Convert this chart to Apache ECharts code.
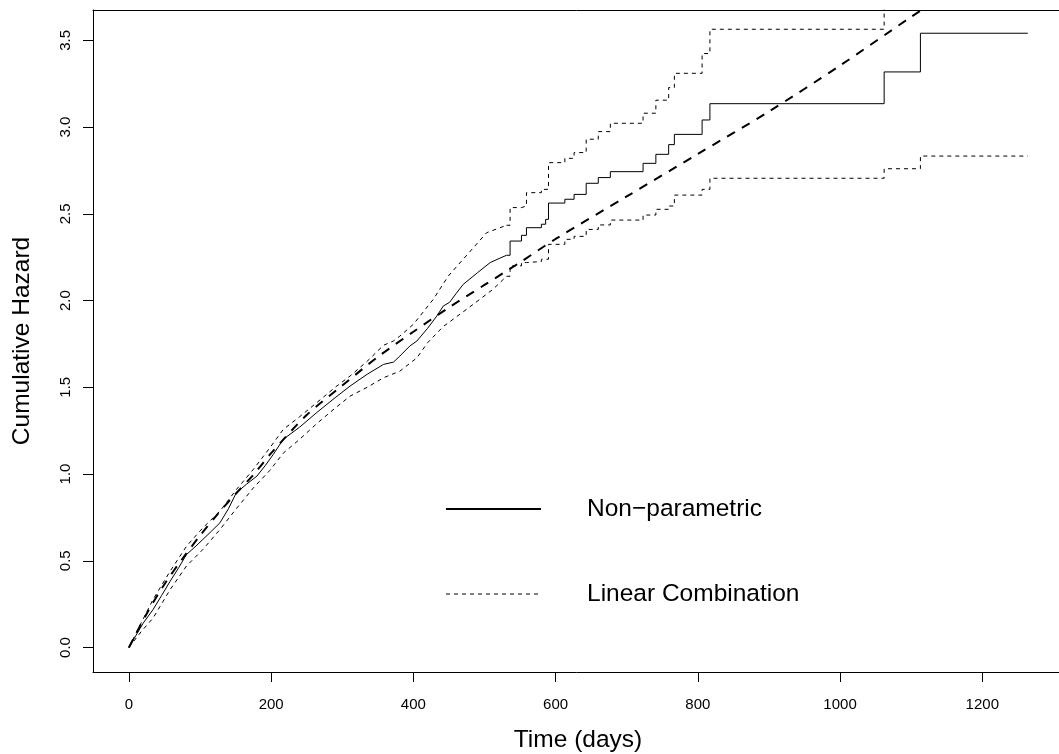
<!DOCTYPE html>
<html>
<head>
<meta charset="utf-8">
<script src="https://cdn.jsdelivr.net/npm/echarts@6/dist/echarts.min.js"></script>
<style>
  html, body { margin: 0; padding: 0; background: #fff; }
  #hazardChart { width: 1059px; height: 754px; }
</style>
</head>
<body>
<div id="hazardChart"></div>
<script>
// ticks
var timeTicks = [0, 200, 400, 600, 800, 1000, 1200];
var hazardTicks = [0, 0.5, 1, 1.5, 2, 2.5, 3, 3.5];

// non-parametric estimate, [days, cumulative hazard]
// early part: events so dense the steps read as a line
var npEarly = [[0,0],[10,0.07],[20,0.14],[34,0.219],[46,0.30],[58,0.382],[70,0.46],[81,0.536],[93,0.58],[104,0.623],[116,0.67],[128,0.719],[140,0.80],[151,0.892],[165,0.94],[180,0.988],[192,1.05],[203,1.113],[217,1.2],[240,1.27],[264,1.354],[290,1.44],[311,1.507],[335,1.575],[358,1.632],[372,1.645],[381,1.68],[395,1.738],[405,1.767],[420,1.84],[433,1.911],[442,1.968],[451,1.99],[460,2.04],[470,2.093],[490,2.16],[508,2.219],[522,2.245],[531,2.261]];
var npSteps = [[531,2.261],[536,2.343],[552,2.376],[559,2.42],[580,2.44],[586,2.468],[590,2.562],[613,2.584],[626,2.612],[643,2.676],[660,2.709],[677,2.743],[723,2.791],[741,2.843],[759,2.899],[767,2.958],[806,3.041],[817,3.135],[1062,3.318],[1113,3.541],[1264,3.541]];

// confidence bounds
var upperEarly = [[0,0],[17,0.14],[34,0.277],[58,0.44],[81,0.584],[104,0.69],[128,0.786],[151,0.91],[175,1.027],[198,1.15],[217,1.257],[240,1.33],[264,1.411],[290,1.50],[311,1.565],[335,1.65],[358,1.742],[372,1.767],[381,1.795],[400,1.863],[428,2.007],[449,2.141],[470,2.238],[503,2.391],[531,2.434]];
var upperSteps = [[531,2.434],[536,2.536],[552,2.545],[559,2.622],[580,2.641],[590,2.795],[613,2.82],[626,2.853],[643,2.93],[660,2.974],[677,3.022],[723,3.08],[741,3.155],[759,3.228],[767,3.31],[806,3.424],[817,3.564],[1062,3.9],[1113,4.2],[1264,4.2]];
var lowerEarly = [[0,0],[17,0.09],[34,0.17],[58,0.334],[81,0.47],[104,0.565],[128,0.68],[151,0.80],[175,0.92],[198,1.02],[217,1.12],[240,1.20],[264,1.29],[290,1.38],[311,1.449],[335,1.50],[358,1.555],[381,1.593],[405,1.67],[420,1.757],[442,1.85],[475,1.95],[512,2.065],[531,2.14]];
var lowerSteps = [[531,2.14],[536,2.2],[552,2.219],[559,2.225],[580,2.238],[590,2.324],[613,2.353],[626,2.37],[643,2.41],[660,2.436],[677,2.464],[723,2.493],[741,2.526],[759,2.545],[767,2.608],[806,2.641],[817,2.705],[1062,2.76],[1113,2.833],[1264,2.833]];

// fitted curve
var fitTimes = [0, 25, 50, 75, 100, 125, 150, 175, 200, 250, 300, 350, 400, 450, 500, 550, 600, 700, 800, 900, 1000, 1100, 1150];
var fitHazard = [0, 0.195, 0.365, 0.51, 0.645, 0.77, 0.885, 0.995, 1.12, 1.34, 1.51, 1.675, 1.82, 1.96, 2.09, 2.22, 2.355, 2.60, 2.845, 3.09, 3.355, 3.635, 3.77];

var fitData = fitTimes.map(function (t, i) { return [t, fitHazard[i]]; });

var chart = echarts.init(document.getElementById('hazardChart'));

var bandStyle = { color: '#000', width: 1, type: [4, 4] };
var npStyle = { color: '#000', width: 1, type: 'solid' };
var boxLine = { show: true, onZero: false, lineStyle: { color: '#000', width: 1 } };

option = {
    backgroundColor: '#fff',
    animation: false,
    color: ['#000'],
    textStyle: { fontFamily: '"Liberation Sans", Arial, Helvetica, sans-serif', color: '#000' },
    grid: {
        left: 93,
        top: 10,
        width: 970,
        height: 662,
        outerBoundsMode: 'none',
        show: false
    },
    legend: {
        orient: 'vertical',
        left: 445,
        top: 494,
        padding: 0,
        itemWidth: 95,
        itemHeight: 14,
        itemGap: 55,
        selectedMode: false,
        itemStyle: { opacity: 0 },
        textStyle: {
            fontSize: 24.5,
            color: '#000',
            lineHeight: 30,
            padding: [0, 0, 0, 41]
        },
        data: [
            { name: 'Non−parametric' },
            { name: 'Linear Combination', lineStyle: { width: 1, type: [4, 4], color: '#000' } }
        ]
    },
    xAxis: [{
        type: 'value',
        position: 'bottom',
        min: -50.5,
        max: 1313.5,
        name: 'Time (days)',
        nameLocation: 'middle',
        nameGap: 56,
        nameTextStyle: { fontSize: 24.5, color: '#000' },
        axisLine: boxLine,
        splitLine: { show: false },
        axisTick: {
            show: true,
            inside: false,
            length: 10,
            customValues: timeTicks,
            lineStyle: { color: '#000', width: 1 }
        },
        axisLabel: {
            customValues: timeTicks,
            margin: 25,
            fontSize: 15,
            color: '#000',
            formatter: function (v) { return String(v); }
        }
    }, {
        // top edge of the box
        type: 'value',
        position: 'top',
        min: -50.5,
        max: 1313.5,
        axisLine: boxLine,
        axisTick: { show: false },
        axisLabel: { show: false },
        splitLine: { show: false }
    }],
    yAxis: [{
        type: 'value',
        position: 'left',
        min: -0.1413,
        max: 3.675,
        name: 'Cumulative Hazard',
        nameLocation: 'middle',
        nameGap: 58,
        nameTextStyle: { fontSize: 24.5, color: '#000' },
        axisLine: boxLine,
        splitLine: { show: false },
        axisTick: {
            show: true,
            inside: false,
            length: 10,
            customValues: hazardTicks,
            lineStyle: { color: '#000', width: 1 }
        },
        axisLabel: {
            customValues: hazardTicks,
            rotate: 90,
            margin: 20,
            fontSize: 15,
            color: '#000',
            formatter: function (v) { return v.toFixed(1); }
        }
    }],
    series: [
        { name: 'Non−parametric', type: 'line', symbol: 'none', lineStyle: npStyle, data: npEarly },
        { name: 'Non−parametric', type: 'line', symbol: 'none', step: 'end', lineStyle: npStyle, data: npSteps },
        { name: 'Upper bound', type: 'line', symbol: 'none', lineStyle: bandStyle, data: upperEarly },
        { name: 'Upper bound', type: 'line', symbol: 'none', step: 'end', lineStyle: bandStyle, data: upperSteps },
        { name: 'Lower bound', type: 'line', symbol: 'none', lineStyle: bandStyle, data: lowerEarly },
        { name: 'Lower bound', type: 'line', symbol: 'none', step: 'end', lineStyle: bandStyle, data: lowerSteps },
        {
            name: 'Linear Combination',
            type: 'line',
            symbol: 'none',
            smooth: 0.3,
            lineStyle: { color: '#000', width: 2, type: [9, 8] },
            data: fitData
        }
    ]
};

chart.setOption(option);
</script>
</body>
</html>
